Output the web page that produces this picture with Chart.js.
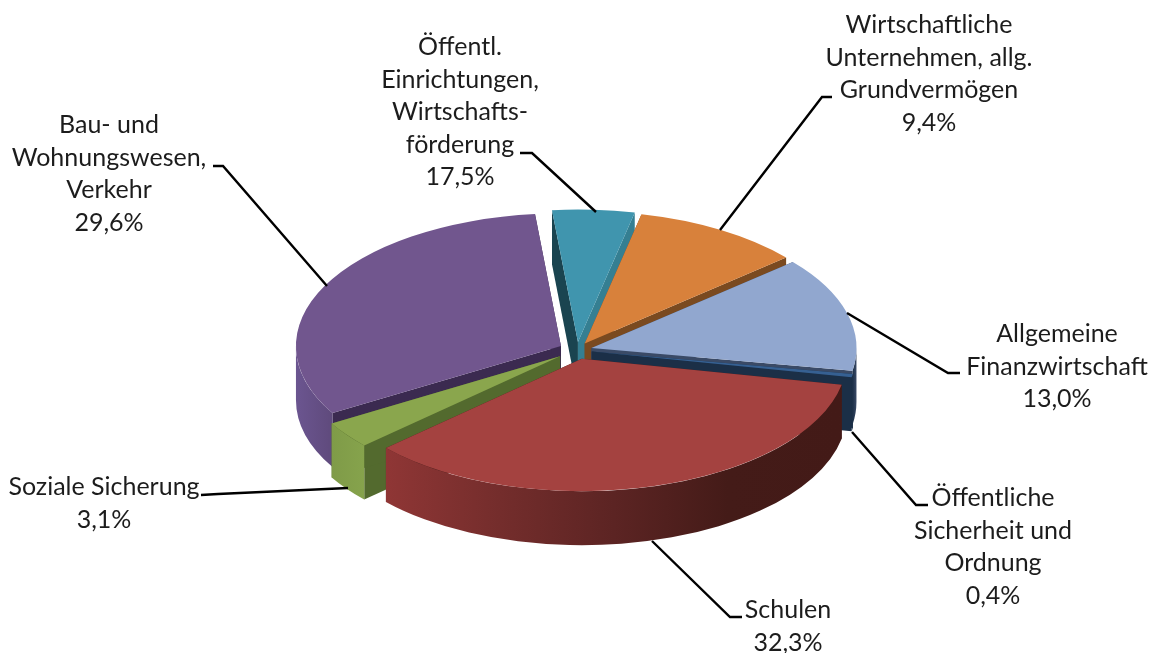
<!DOCTYPE html>
<html lang="de">
<head>
<meta charset="utf-8">
<title>Ausgaben nach Aufgabenbereichen</title>
<style>html,body{margin:0;padding:0;background:#fff}#c{display:block}</style>
<script src="https://cdn.jsdelivr.net/npm/chart.js@4"></script>
</head>
<body>
<canvas id="c" width="1154" height="653"></canvas>
<script>
// Data, in drawing order, clockwise from the right-hand edge of the pie
const categories = ['Schulen', 'Soziale Sicherung', 'Bau- und Wohnungswesen, Verkehr', 'Öffentl. Einrichtungen, Wirtschaftsförderung', 'Wirtschaftliche Unternehmen, allg. Grundvermögen', 'Allgemeine Finanzwirtschaft', 'Öffentliche Sicherheit und Ordnung'];
const sliceShares = [35.1, 3.3, 31.9, 5.0, 10.3, 14.0, 0.4];
// Percentages as printed next to the slices
const printedPercents = ['32,3%', '3,1%', '29,6%', '17,5%', '9,4%', '13,0%', '0,4%'];
const labelLines = [
  ['Schulen'],
  ['Soziale Sicherung'],
  ['Bau- und', 'Wohnungswesen,', 'Verkehr'],
  ['Öffentl.', 'Einrichtungen,', 'Wirtschafts-', 'förderung'],
  ['Wirtschaftliche', 'Unternehmen, allg.', 'Grundvermögen'],
  ['Allgemeine', 'Finanzwirtschaft'],
  ['Öffentliche', 'Sicherheit und', 'Ordnung']
];
// Styles
const topColors   = ['#a44240', '#8aa64d', '#71568e', '#4095ae', '#d8813b', '#91a7cf', '#366092'];
const wallStops   = [
  ['#8f3635', '#742d2c', '#5c2423', '#441b18', '#431a17'],
  ['#7f9b48', '#86a34c'],
  ['#6b5590', '#5f4a7c'],
  ['#357f92', '#357f92'],
  ['#7a4a20', '#7a4a20'],
  ['#1b2f47', '#3a4a66'],
  ['#1b2f47', '#1b2f47']
];
const startFaceColors = ['#441b18', '#536a2e', '#3b2a50', '#1a4450', '#7a4a20', '#3a4a66', '#1b2f47'];
const endFaceColors   = ['#441b18', '#536a2e', '#3b2a50', '#357f92', '#7a4a20', '#3a4a66', '#1b2f47'];
const sliceOffsets = [18, 21, 18, 16, 15, 15, 15]; // explosion of each slice, px
// Layout
const ROTATION = 101.3, RADIUS = 265, TILT = 0.5, CENTER_Y = 350, DEPTH = 54;
const FONT = '25px Lato, "Open Sans", sans-serif', LINE_H = 32.6;
const labelCenters = [[788, 610], [104, 487], [109, 125], [460, 47], [929, 25], [1057, 334], [993, 498]];
const leaders = [
  [[652, 541], [730, 617], [742, 617]],
  [[201, 495], [218, 494], [348, 488]],
  [[213, 166], [223, 166], [327, 286]],
  [[520, 153], [532, 153], [596, 212]],
  [[832, 97], [822, 97], [720, 230]],
  [[960, 373], [948, 373], [847, 313]],
  [[852, 432], [916, 505], [928, 505]]
];

const pie3d = {
  id: 'pie3d',
  beforeDatasetDraw(chart, args) {
    const ctx = chart.ctx;
    const arcs = chart.getDatasetMeta(args.index).data;
    const geo = arcs.map((el, i) => {
      const p = el.getProps(['x', 'y', 'startAngle', 'endAngle', 'outerRadius'], true);
      const off = sliceOffsets[i];
      const mid = (p.startAngle + p.endAngle) / 2;
      return {
        i, s: p.startAngle, e: p.endAngle, mid, off,
        r: p.outerRadius,
        x: p.x + off * Math.cos(mid),
        y: CENTER_Y + off * Math.sin(mid) * TILT,
        chartX: p.x, chartY: p.y
      };
    });
    const face = (g, a, color) => {
      const px = g.x + g.r * Math.cos(a), py = g.y + g.r * TILT * Math.sin(a);
      ctx.fillStyle = color;
      ctx.beginPath();
      ctx.moveTo(g.x, g.y);
      ctx.lineTo(px, py);
      ctx.lineTo(px, py + DEPTH);
      ctx.lineTo(g.x, g.y + DEPTH);
      ctx.closePath();
      ctx.fill();
    };
    const wall = (g, a, b) => {
      const x1 = g.x + g.r * Math.cos(a), x2 = g.x + g.r * Math.cos(b);
      const stops = wallStops[g.i];
      const grad = ctx.createLinearGradient(Math.min(x1, x2), 0, Math.max(x1, x2) + 0.01, 0);
      stops.forEach((c, k) => grad.addColorStop(k / (stops.length - 1), c));
      ctx.fillStyle = grad;
      ctx.beginPath();
      ctx.ellipse(g.x, g.y, g.r, g.r * TILT, 0, a, b);
      ctx.ellipse(g.x, g.y + DEPTH, g.r, g.r * TILT, 0, b, a, true);
      ctx.closePath();
      ctx.fill();
    };
    // Walls, back to front
    [...geo].sort((p, q) => Math.sin(p.mid) - Math.sin(q.mid)).forEach(g => {
      face(g, g.s, startFaceColors[g.i]);
      face(g, g.e, endFaceColors[g.i]);
      for (const base of [0, 2 * Math.PI]) {
        const a = Math.max(g.s, base), b = Math.min(g.e, base + Math.PI);
        if (b > a) wall(g, a, b);
      }
    });
    // Tops: the library's own arc elements, flattened and pulled apart
    arcs.forEach((el, i) => {
      const g = geo[i];
      ctx.save();
      ctx.translate(g.chartX, CENTER_Y);
      ctx.scale(1, TILT);
      ctx.translate(-g.chartX, -g.chartY);
      ctx.translate(g.off * Math.cos(g.mid), g.off * Math.sin(g.mid));
      el.draw(ctx, chart.chartArea);
      ctx.restore();
    });
    return false;
  },
  afterDatasetsDraw(chart) {
    const ctx = chart.ctx;
    ctx.save();
    ctx.strokeStyle = '#000';
    ctx.lineWidth = 2.4;
    ctx.lineJoin = 'miter';
    leaders.forEach(pts => {
      ctx.beginPath();
      pts.forEach(([x, y], k) => k ? ctx.lineTo(x, y) : ctx.moveTo(x, y));
      ctx.stroke();
    });
    ctx.fillStyle = '#1c1c1c';
    ctx.font = FONT;
    ctx.textAlign = 'center';
    ctx.textBaseline = 'middle';
    labelLines.forEach((lines, i) => {
      const [x, y] = labelCenters[i];
      [...lines, printedPercents[i]].forEach((t, k) => ctx.fillText(t, x, y + k * LINE_H));
    });
    ctx.restore();
  }
};

new Chart(document.getElementById('c'), {
  type: 'pie',
  data: {
    labels: categories,
    datasets: [{
      data: sliceShares,
      backgroundColor: topColors,
      borderWidth: 0,
      radius: RADIUS,
      clip: false
    }]
  },
  options: {
    responsive: false,
    animation: false,
    rotation: ROTATION,
    events: [],
    layout: { padding: 0 },
    plugins: { legend: { display: false }, tooltip: { enabled: false } }
  },
  plugins: [pie3d]
});
</script>
</body>
</html>
